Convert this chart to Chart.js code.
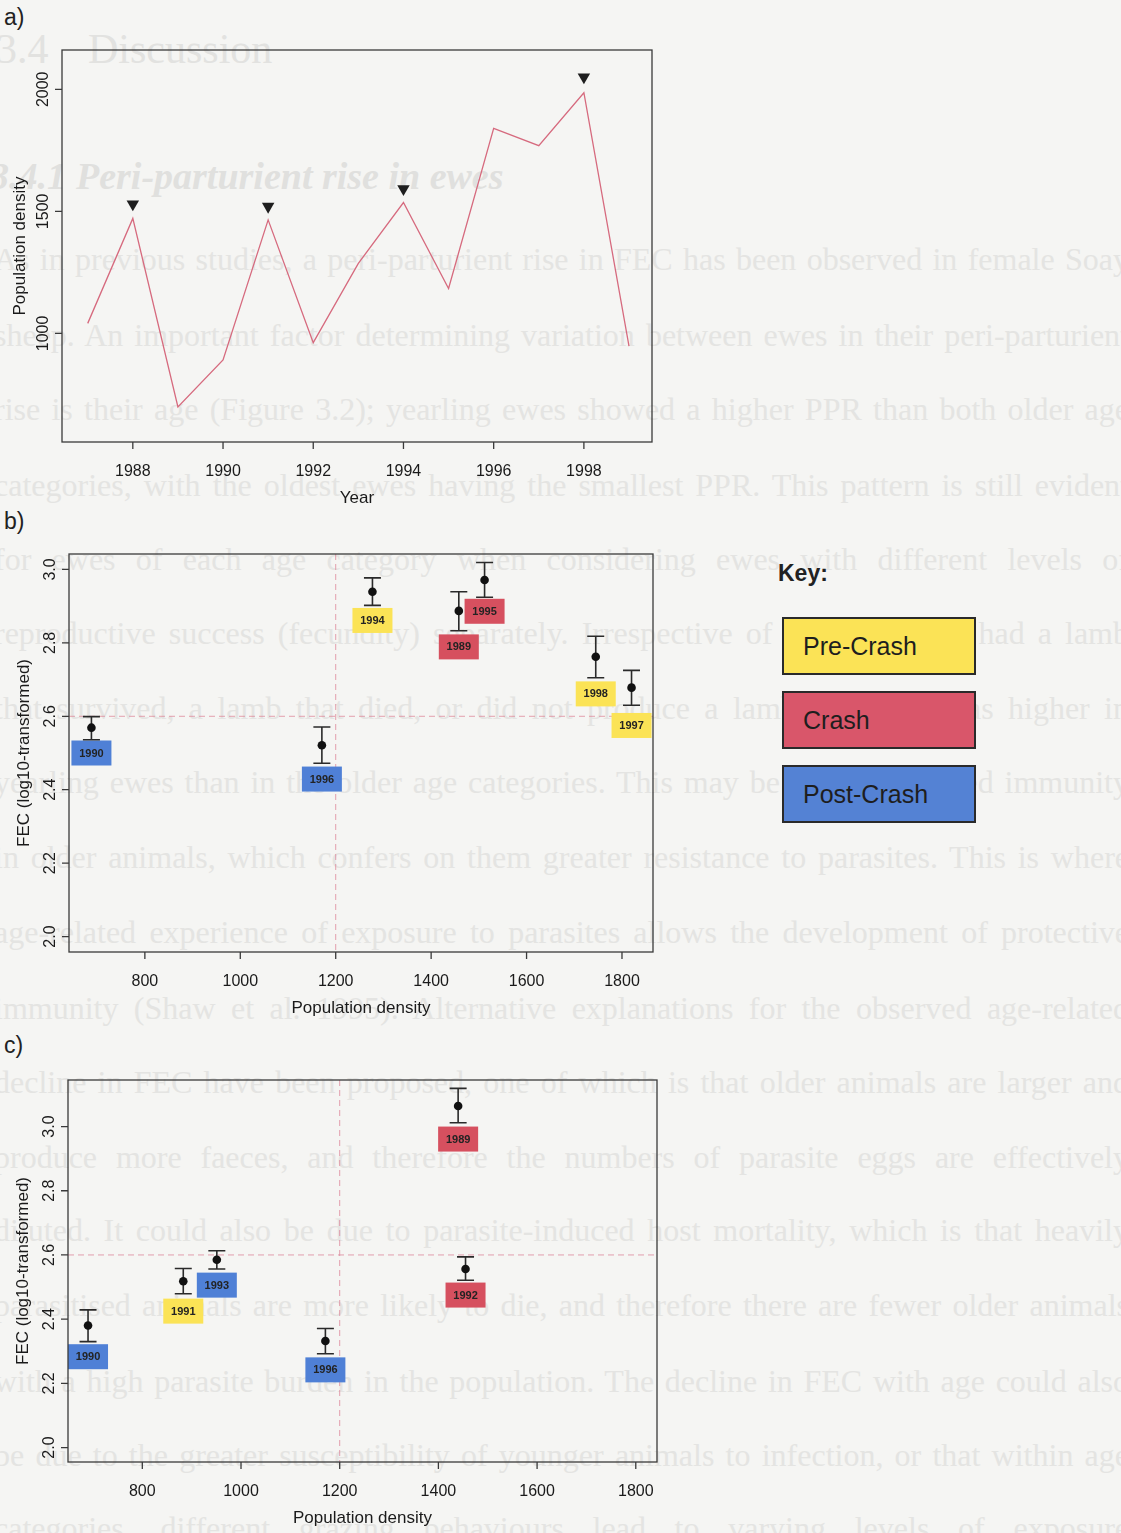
<!DOCTYPE html>
<html>
<head>
<meta charset="utf-8">
<script src="https://cdn.jsdelivr.net/npm/chart.js@4.4.1/dist/chart.umd.min.js"></script>
<style>
html,body{margin:0;padding:0;background:#f5f5f3;}
body{width:1121px;height:1533px;position:relative;overflow:hidden;font-family:"Liberation Sans",Arial,sans-serif;color:#1e1e1e;}
canvas{position:absolute;left:0;}
.ghost{position:absolute;left:-6px;width:1135px;font-family:"Liberation Serif","Times New Roman",serif;font-size:32px;line-height:1;
  color:#e4e4e2;white-space:nowrap;text-align:justify;text-align-last:justify;}
.gh1{position:absolute;font-family:"Liberation Serif",serif;font-size:42px;line-height:1;color:#e2e2e0;white-space:nowrap;}
.gh2{position:absolute;font-family:"Liberation Serif",serif;font-size:38px;line-height:1;color:#e0e0de;white-space:nowrap;font-style:italic;font-weight:bold;}
.plab{position:absolute;left:4px;font-size:23px;line-height:1;color:#222;}
.key{position:absolute;left:778px;top:562px;font-size:23px;font-weight:bold;line-height:1;color:#222;}
.kbox{position:absolute;left:782px;width:194px;height:58px;box-sizing:border-box;border:2px solid #2a2a2a;
  font-size:25px;line-height:1;display:flex;align-items:center;padding-left:19px;color:#1e1e1e;}
</style>
</head>
<body>
<div class="gh1" style="left:-4px;top:28px">3.4</div>
<div class="gh1" style="left:88px;top:28px">Discussion</div>
<div class="gh2" style="left:-10px;top:157px">3.4.1</div>
<div class="gh2" style="left:76px;top:157px">Peri-parturient rise in ewes</div>
<div class="ghost" style="top:243px">As in previous studies, a peri-parturient rise in FEC has been observed in female Soay</div>
<div class="ghost" style="top:319px">sheep. An important factor determining variation between ewes in their peri-parturient</div>
<div class="ghost" style="top:393px">rise is their age (Figure 3.2); yearling ewes showed a higher PPR than both older age</div>
<div class="ghost" style="top:469px">categories, with the oldest ewes having the smallest PPR. This pattern is still evident</div>
<div class="ghost" style="top:543px">for ewes of each age category when considering ewes with different levels of</div>
<div class="ghost" style="top:617px">reproductive success (fecundity) separately. Irrespective of whether ewes had a lamb</div>
<div class="ghost" style="top:692px">that survived, a lamb that died, or did not produce a lamb, the PPR was higher in</div>
<div class="ghost" style="top:766px">yearling ewes than in the older age categories. This may be due to acquired immunity</div>
<div class="ghost" style="top:841px">in older animals, which confers on them greater resistance to parasites. This is where</div>
<div class="ghost" style="top:916px">age-related experience of exposure to parasites allows the development of protective</div>
<div class="ghost" style="top:992px">immunity (Shaw et al. 1995). Alternative explanations for the observed age-related</div>
<div class="ghost" style="top:1066px">decline in FEC have been proposed, one of which is that older animals are larger and</div>
<div class="ghost" style="top:1141px">produce more faeces, and therefore the numbers of parasite eggs are effectively</div>
<div class="ghost" style="top:1214px">diluted. It could also be due to parasite-induced host mortality, which is that heavily</div>
<div class="ghost" style="top:1289px">parasitised animals are more likely to die, and therefore there are fewer older animals</div>
<div class="ghost" style="top:1365px">with a high parasite burden in the population. The decline in FEC with age could also</div>
<div class="ghost" style="top:1439px">be due to the greater susceptibility of younger animals to infection, or that within age</div>
<div class="ghost" style="top:1512px">categories, different grazing behaviours lead to varying levels of exposure</div>

<div class="plab" style="top:6px">a)</div>
<div class="plab" style="top:510px">b)</div>
<div class="plab" style="top:1034px">c)</div>

<canvas id="ca" width="700" height="520" style="top:0px"></canvas>
<canvas id="cb" width="700" height="510" style="top:520px"></canvas>
<canvas id="cc" width="700" height="503" style="top:1030px"></canvas>

<div class="key">Key:</div>
<div class="kbox" style="top:617px;background:#fbe356">Pre-Crash</div>
<div class="kbox" style="top:691px;background:#d9566a">Crash</div>
<div class="kbox" style="top:765px;background:#5482d4">Post-Crash</div>

<script>
// ---------- Panel a: population density by year ----------
const aYears   = [1987,1988,1989,1990,1991,1992,1993,1994,1995,1996,1997,1998,1999];
const aDensity = [1041,1471,699,891,1465,962,1287,1536,1184,1840,1769,1986,948];
const aPeakYears = [1988,1991,1994,1998];
const aPeakMarks = [1530,1520,1592,2050];
const aXTicks = [1988,1990,1992,1994,1996,1998];
const aYTicks = [1000,1500,2000];

// ---------- Panel b ----------
const bLabels  = ['1990','1996','1994','1989','1995','1998','1997'];
const bDensity = [688,1171,1277,1458,1512,1745,1820];
const bFEC     = [2.569,2.521,2.939,2.887,2.971,2.762,2.678];
const bLower   = [2.536,2.472,2.902,2.833,2.924,2.705,2.630];
const bUpper   = [2.599,2.571,2.977,2.939,3.019,2.818,2.725];
const bPhase   = ['post','post','pre','crash','crash','pre','pre'];
const bLabelY  = [2.500,2.429,2.861,2.789,2.886,2.661,2.575];

// ---------- Panel c ----------
const cLabels  = ['1990','1991','1993','1996','1989','1992'];
const cDensity = [690,883,951,1171,1440,1455];
const cFEC     = [2.380,2.518,2.585,2.332,3.064,2.556];
const cLower   = [2.330,2.479,2.556,2.292,3.012,2.521];
const cUpper   = [2.429,2.558,2.613,2.371,3.119,2.594];
const cPhase   = ['post','pre','post','post','crash','crash'];
const cLabelY  = [2.283,2.425,2.506,2.242,2.961,2.475];

const fecXTicks = [800,1000,1200,1400,1600,1800];
const fecYTicks = [2.0,2.2,2.4,2.6,2.8,3.0];
const refDensity = 1200;
const refFEC = 2.6;

const phaseColor = {pre:'#fbe356', crash:'#d6505f', post:'#4f80d6'};
const FONT = '"Liberation Sans", Arial, sans-serif';

function axesPlugin(cfg){
  return {
    id:'rAxes',
    afterDraw(chart){
      const {ctx, chartArea:ca, scales:{x,y}} = chart;
      ctx.save();
      ctx.strokeStyle='#3a3a3a'; ctx.lineWidth=1.3;
      ctx.strokeRect(ca.left, ca.top, ca.right-ca.left, ca.bottom-ca.top);
      ctx.beginPath();
      cfg.xTicks.forEach(v=>{const px=x.getPixelForValue(v); ctx.moveTo(px,ca.bottom); ctx.lineTo(px,ca.bottom+7);});
      cfg.yTicks.forEach(v=>{const py=y.getPixelForValue(v); ctx.moveTo(ca.left,py); ctx.lineTo(ca.left-7,py);});
      ctx.stroke();
      ctx.fillStyle='#1a1a1a';
      ctx.font='16px '+FONT; ctx.textAlign='center'; ctx.textBaseline='alphabetic';
      cfg.xTicks.forEach(v=>ctx.fillText(cfg.xFmt(v), x.getPixelForValue(v), ca.bottom+34));
      cfg.yTicks.forEach(v=>{
        ctx.save(); ctx.translate(ca.left-14, y.getPixelForValue(v)); ctx.rotate(-Math.PI/2);
        ctx.fillText(cfg.yFmt(v),0,0); ctx.restore();
      });
      ctx.font='17px '+FONT;
      ctx.fillText(cfg.xTitle,(ca.left+ca.right)/2, ca.bottom+61);
      ctx.save(); ctx.translate(cfg.yTitleX,(ca.top+ca.bottom)/2); ctx.rotate(-Math.PI/2);
      ctx.fillText(cfg.yTitle,0,0); ctx.restore();
      ctx.restore();
    }
  };
}

function fecPlugin(d){
  return {
    id:'fec',
    beforeDatasetsDraw(chart){
      const {ctx, chartArea:ca, scales:{x,y}} = chart;
      ctx.save();
      ctx.strokeStyle='rgba(220,130,150,0.75)'; ctx.lineWidth=1; ctx.setLineDash([6,4]);
      ctx.beginPath();
      const rx=x.getPixelForValue(refDensity), ry=y.getPixelForValue(refFEC);
      ctx.moveTo(rx,ca.top); ctx.lineTo(rx,ca.bottom);
      ctx.moveTo(ca.left,ry); ctx.lineTo(ca.right,ry);
      ctx.stroke(); ctx.setLineDash([]);
      d.labels.forEach((lab,i)=>{
        const px=x.getPixelForValue(d.density[i]), py=y.getPixelForValue(d.labelY[i]);
        ctx.fillStyle=phaseColor[d.phase[i]];
        ctx.fillRect(px-20,py-12.5,40,25);
        ctx.fillStyle='#232323'; ctx.font='bold 11px '+FONT;
        ctx.textAlign='center'; ctx.textBaseline='middle';
        ctx.fillText(lab,px,py+0.5);
      });
      ctx.strokeStyle='#2a2a2a'; ctx.lineWidth=1.6;
      ctx.beginPath();
      d.density.forEach((v,i)=>{
        const px=x.getPixelForValue(v), pl=y.getPixelForValue(d.lower[i]), pu=y.getPixelForValue(d.upper[i]);
        ctx.moveTo(px,pl); ctx.lineTo(px,pu);
        ctx.moveTo(px-8.5,pl); ctx.lineTo(px+8.5,pl);
        ctx.moveTo(px-8.5,pu); ctx.lineTo(px+8.5,pu);
      });
      ctx.stroke();
      ctx.restore();
    }
  };
}

function baseOptions(pad, xr, yr){
  return {
    responsive:false, animation:false, events:[],
    layout:{padding:pad},
    plugins:{legend:{display:false}, tooltip:{enabled:false}},
    scales:{
      x:{type:'linear', display:false, min:xr[0], max:xr[1]},
      y:{type:'linear', display:false, min:yr[0], max:yr[1]}
    }
  };
}

// Panel a
new Chart(document.getElementById('ca'), {
  type:'scatter',
  data:{datasets:[
    {data:aYears.map((yv,i)=>({x:yv,y:aDensity[i]})), showLine:true, borderColor:'#d66a7e',
     borderWidth:1.3, pointRadius:0, tension:0, fill:false},
    {data:aPeakYears.map((yv,i)=>({x:yv,y:aPeakMarks[i]})), showLine:false, pointStyle:'triangle',
     rotation:180, pointRadius:7.2, backgroundColor:'#1e1e1e', borderColor:'#1e1e1e', borderWidth:0}
  ]},
  options:baseOptions({left:62,top:50,right:48,bottom:78},[1986.43,1999.51],[555,2161]),
  plugins:[axesPlugin({xTicks:aXTicks, yTicks:aYTicks, xFmt:v=>String(v), yFmt:v=>String(v),
    xTitle:'Year', yTitle:'Population density', yTitleX:25})]
});

// Panel b
new Chart(document.getElementById('cb'), {
  type:'scatter',
  data:{datasets:[
    {data:bDensity.map((v,i)=>({x:v,y:bFEC[i]})), pointRadius:4.3, backgroundColor:'#111', borderWidth:0}
  ]},
  options:baseOptions({left:69,top:34,right:47,bottom:78},[641,1865],[1.958,3.042]),
  plugins:[fecPlugin({labels:bLabels,density:bDensity,lower:bLower,upper:bUpper,phase:bPhase,labelY:bLabelY}),
    axesPlugin({xTicks:fecXTicks, yTicks:fecYTicks, xFmt:v=>String(v), yFmt:v=>v.toFixed(1),
    xTitle:'Population density', yTitle:'FEC (log10-transformed)', yTitleX:29})]
});

// Panel c
new Chart(document.getElementById('cc'), {
  type:'scatter',
  data:{datasets:[
    {data:cDensity.map((v,i)=>({x:v,y:cFEC[i]})), pointRadius:4.3, backgroundColor:'#111', borderWidth:0}
  ]},
  options:baseOptions({left:68,top:50,right:43,bottom:71},[649.4,1843],[1.955,3.145]),
  plugins:[fecPlugin({labels:cLabels,density:cDensity,lower:cLower,upper:cUpper,phase:cPhase,labelY:cLabelY}),
    axesPlugin({xTicks:fecXTicks, yTicks:fecYTicks, xFmt:v=>String(v), yFmt:v=>v.toFixed(1),
    xTitle:'Population density', yTitle:'FEC (log10-transformed)', yTitleX:28})]
});
</script>
</body>
</html>
